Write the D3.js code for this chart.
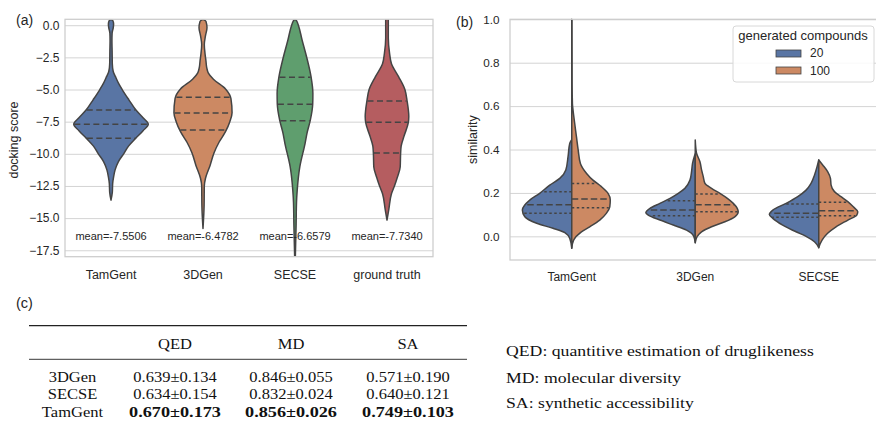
<!DOCTYPE html>
<html><head><meta charset="utf-8">
<script src="https://cdn.jsdelivr.net/npm/d3@7"></script>
<style>
body{margin:0;background:#fff}
svg{display:block}
text{font-family:"Liberation Sans",Arial,sans-serif;fill:#262626}
.serif text, text.serif{font-family:"Liberation Serif","Times New Roman",serif;fill:#111}
</style>
</head><body>
<svg id="chart" width="876" height="422"></svg>
<script>
// ---------------- DATA ----------------
// Panel (a): docking score violins
const categoriesA = ["TamGent", "3DGen", "SECSE", "ground truth"];
const meansA = [-7.5506, -6.4782, -6.6579, -7.7340];
const yTicksA = [0, -2.5, -5, -7.5, -10, -12.5, -15, -17.5];
// density profiles [value, relative density]
const densTamGentA = [[0.46,0],[0.35,0.05],[0.1,0.07],[-0.2,0.06],[-0.6,0.03],[-1.2,0.025],[-2.0,0.03],[-3.0,0.035],[-3.6,0.06],[-4.0,0.12],[-4.5,0.2],[-5.0,0.3],[-5.8,0.48],[-6.6,0.67],[-7.2,0.86],[-7.7,1.0],[-8.2,0.86],[-8.8,0.66],[-9.4,0.47],[-10.0,0.34],[-10.6,0.2],[-11.25,0.11],[-11.8,0.07],[-12.3,0.045],[-13.0,0.035],[-13.6,0]];
const dens3DGenA = [[0.46,0],[0.3,0.08],[-0.2,0.107],[-0.8,0.067],[-1.5,0.035],[-2.2,0.054],[-2.8,0.08],[-3.3,0.1],[-3.7,0.14],[-4.2,0.28],[-4.97,0.61],[-5.7,0.75],[-6.8,0.78],[-7.5,0.72],[-8.3,0.6],[-9.1,0.43],[-9.9,0.3],[-10.9,0.19],[-11.9,0.067],[-12.5,0.035],[-14.0,0.03],[-15.8,0]];
const densSECSEA = [[0.5,0],[0.3,0.05],[0,0.09],[-1.15,0.19],[-2.45,0.31],[-4.0,0.43],[-5.3,0.48],[-6.15,0.475],[-7.4,0.41],[-8.3,0.33],[-9.2,0.27],[-11.0,0.13],[-12.8,0.06],[-13.8,0.04],[-15.5,0.03],[-19,0]];
const densTruthA = [[0.8,0],[0.46,0.035],[-1.0,0.035],[-2.2,0.07],[-3.0,0.12],[-4.0,0.31],[-5.0,0.48],[-5.9,0.54],[-7.1,0.585],[-7.6,0.57],[-8.6,0.46],[-9.4,0.38],[-10.0,0.365],[-11.0,0.355],[-11.8,0.28],[-12.5,0.2],[-13.1,0.12],[-14.3,0.05],[-15.15,0]];
const quartTamGentA = [-8.79, -7.70, -6.59];
const quart3DGenA = [-8.14, -6.82, -5.60];
const quartSECSEA = [-7.42, -6.15, -4.05];
const quartTruthA = [-9.93, -7.55, -5.89];

// Panel (b): similarity split violins
const categoriesB = ["TamGent", "3DGen", "SECSE"];
const seriesB = ["20", "100"];
const yTicksB = [0, 0.2, 0.4, 0.6, 0.8, 1.0];
const densTamGent20 = [[-0.055,0],[-0.01,0.04],[0.017,0.14],[0.037,0.38],[0.06,0.71],[0.09,0.95],[0.121,1.0],[0.167,0.85],[0.198,0.65],[0.236,0.445],[0.267,0.243],[0.306,0.12],[0.367,0.075],[0.429,0.04],[0.445,0]];
const densTamGent100 = [[-0.055,0],[-0.017,0.04],[0.021,0.196],[0.044,0.364],[0.075,0.567],[0.106,0.70],[0.136,0.77],[0.167,0.78],[0.198,0.735],[0.229,0.60],[0.259,0.43],[0.29,0.30],[0.336,0.175],[0.398,0.13],[0.459,0.095],[0.52,0.06],[0.582,0.026],[0.61,0.014],[0.7,0.008],[0.995,0.006],[1.0,0]];
const dens3DGen20 = [[-0.029,0],[0,0.03],[0.029,0.176],[0.052,0.445],[0.075,0.715],[0.098,0.95],[0.109,1.0],[0.129,0.917],[0.152,0.715],[0.175,0.51],[0.198,0.344],[0.221,0.21],[0.259,0.107],[0.298,0.075],[0.336,0.055],[0.367,0.02],[0.38,0]];
const dens3DGen100 = [[-0.029,0],[0,0.04],[0.021,0.128],[0.044,0.33],[0.067,0.60],[0.09,0.80],[0.113,0.87],[0.129,0.85],[0.152,0.77],[0.175,0.65],[0.198,0.50],[0.221,0.33],[0.244,0.196],[0.275,0.162],[0.306,0.128],[0.344,0.095],[0.383,0.026],[0.41,0.01],[0.444,0]];
const densSECSE20 = [[-0.052,0],[-0.025,0.087],[0,0.257],[0.021,0.46],[0.052,0.73],[0.083,0.93],[0.101,1.0],[0.121,0.93],[0.152,0.66],[0.183,0.425],[0.213,0.257],[0.244,0.156],[0.282,0.087],[0.321,0.034],[0.352,0]];
const densSECSE100 = [[-0.052,0],[-0.017,0.067],[0.014,0.18],[0.044,0.35],[0.075,0.59],[0.098,0.77],[0.113,0.79],[0.136,0.70],[0.16,0.587],[0.183,0.45],[0.206,0.318],[0.236,0.25],[0.267,0.237],[0.298,0.18],[0.329,0.08],[0.352,0]];
const quartTamGent20 = [0.106, 0.146, 0.206];
const quartTamGent100 = [0.132, 0.172, 0.244];
const quart3DGen20 = [0.095, 0.121, 0.164];
const quart3DGen100 = [0.113, 0.146, 0.195];
const quartSECSE20 = [0.088, 0.106, 0.149];
const quartSECSE100 = [0.095, 0.118, 0.157];

// Panel (c): table
const tableColumns = ["QED", "MD", "SA"];
const tableModels = ["3DGen", "SECSE", "TamGent"];
const qedMean = [0.639, 0.634, 0.670], qedStd = [0.134, 0.154, 0.173];
const mdMean = [0.846, 0.832, 0.856],  mdStd = [0.055, 0.024, 0.026];
const saMean = [0.571, 0.640, 0.749],  saStd = [0.190, 0.121, 0.103];
const descriptions = ["QED: quantitive estimation of druglikeness", "MD: molecular diversity", "SA: synthetic accessibility"];

// ---------------- STYLE ----------------
const colorsA = ["#5975a4", "#cc8963", "#5f9e6e", "#b55d60"];
const colorsB = ["#5975a4", "#cc8963"];
const GRID = "#d4d4d4", EDGE = "#444444";

const svg = d3.select("#chart");
const fmt1 = d3.format(".1f");

function widthAt(prof, v) {
  for (let i = 0; i < prof.length - 1; i++) {
    const a = prof[i], b = prof[i + 1];
    if ((v <= a[0] && v >= b[0]) || (v >= a[0] && v <= b[0])) {
      const t = (v - a[0]) / (b[0] - a[0]);
      return a[1] + t * (b[1] - a[1]);
    }
  }
  return 0;
}

// ---------------- PANEL A ----------------
{
  const L = 65, R = 433, T = 19.3, B = 256.7;
  const x = d3.scaleBand().domain(categoriesA).range([L, R]);
  const y = d3.scaleLinear().domain([-18, 0.46]).range([B, T]);
  const w = d3.scaleLinear().domain([0, 1]).range([0, x.bandwidth() * 0.405]);
  const g = svg.append("g");
  g.append("defs").append("clipPath").attr("id", "clipA").append("rect")
    .attr("x", L).attr("y", T).attr("width", R - L).attr("height", B - T);

  const ax = g.append("g").attr("transform", `translate(${L},0)`)
    .call(d3.axisLeft(y).tickValues(yTicksA).tickSize(-(R - L)).tickPadding(5.5).tickFormat(fmt1));
  ax.select(".domain").remove();
  ax.selectAll(".tick line").attr("stroke", GRID).attr("stroke-width", 1);
  ax.selectAll(".tick text").attr("font-size", 12).attr("fill", "#262626").style("font-family", "'Liberation Sans',Arial,sans-serif");

  const dens = [densTamGentA, dens3DGenA, densSECSEA, densTruthA];
  const quarts = [quartTamGentA, quart3DGenA, quartSECSEA, quartTruthA];
  const vg = g.append("g").attr("clip-path", "url(#clipA)");
  categoriesA.forEach((c, i) => {
    const cx = x(c) + x.bandwidth() / 2;
    const area = d3.area().curve(d3.curveMonotoneY)
      .y(d => y(d[0])).x0(d => cx - w(d[1])).x1(d => cx + w(d[1]));
    vg.append("path").datum(dens[i]).attr("d", area)
      .attr("fill", colorsA[i]).attr("stroke", EDGE).attr("stroke-width", 1.5).attr("stroke-linejoin", "round");
    quarts[i].forEach(q => {
      const hw = w(widthAt(dens[i], q)) - 0.6;
      vg.append("line").attr("x1", cx - hw).attr("x2", cx + hw).attr("y1", y(q)).attr("y2", y(q))
        .attr("stroke", EDGE).attr("stroke-width", 1.5).attr("stroke-dasharray", "6,3.5");
    });
  });
  categoriesA.forEach((c, i) => {
    const cx = x(c) + x.bandwidth() / 2;
    g.append("text").attr("x", cx).attr("y", y(-16.7)).attr("text-anchor", "middle")
      .attr("font-size", 11).text("mean=" + meansA[i].toFixed(4));
    g.append("text").attr("x", cx).attr("y", 278.8).attr("text-anchor", "middle")
      .attr("font-size", 12.5).text(c);
  });
  g.append("rect").attr("x", L).attr("y", T).attr("width", R - L).attr("height", B - T)
    .attr("fill", "none").attr("stroke", "#cccccc").attr("stroke-width", 1.25);
  g.append("text").attr("transform", `translate(17.5,${(T + B) / 2 + 2}) rotate(-90)`)
    .attr("text-anchor", "middle").attr("font-size", 12.5).text("docking score");
  g.append("text").attr("x", 16).attr("y", 25).attr("font-size", 14).text("(a)");
}

// ---------------- PANEL B ----------------
{
  const L = 510, R = 880.5, T = 19.3, B = 260;
  const x = d3.scaleBand().domain(categoriesB).range([L, R]);
  const y = d3.scaleLinear().domain([-0.109, 1.0]).range([B, T]);
  const w = d3.scaleLinear().domain([0, 1]).range([0, x.bandwidth() * 0.4]);
  const g = svg.append("g");
  g.append("defs").append("clipPath").attr("id", "clipB").append("rect")
    .attr("x", L).attr("y", T - 1).attr("width", R - L).attr("height", B - T + 1);

  const ax = g.append("g").attr("transform", `translate(${L},0)`)
    .call(d3.axisLeft(y).tickValues(yTicksB).tickSize(-(R - L)).tickPadding(10.5).tickFormat(fmt1));
  ax.select(".domain").remove();
  ax.selectAll(".tick line").attr("stroke", GRID).attr("stroke-width", 1);
  ax.selectAll(".tick text").attr("font-size", 11.7).attr("fill", "#262626").style("font-family", "'Liberation Sans',Arial,sans-serif");

  const dens = [[densTamGent20, densTamGent100], [dens3DGen20, dens3DGen100], [densSECSE20, densSECSE100]];
  const quarts = [[quartTamGent20, quartTamGent100], [quart3DGen20, quart3DGen100], [quartSECSE20, quartSECSE100]];
  const vg = g.append("g").attr("clip-path", "url(#clipB)");
  categoriesB.forEach((c, i) => {
    const cx = x(c) + x.bandwidth() / 2;
    seriesB.forEach((s, j) => {
      const sign = j === 0 ? -1 : 1;
      const area = d3.area().curve(d3.curveMonotoneY)
        .y(d => y(d[0])).x0(() => cx).x1(d => cx + sign * w(d[1]));
      vg.append("path").datum(dens[i][j]).attr("d", area)
        .attr("fill", colorsB[j]).attr("stroke", EDGE).attr("stroke-width", 1.5).attr("stroke-linejoin", "round");
    });
  });
  categoriesB.forEach((c, i) => {
    const cx = x(c) + x.bandwidth() / 2;
    seriesB.forEach((s, j) => {
      const sign = j === 0 ? -1 : 1;
      quarts[i][j].forEach((q, k) => {
        const hw = w(widthAt(dens[i][j], q)) - 0.6;
        vg.append("line").attr("x1", cx).attr("x2", cx + sign * hw).attr("y1", y(q)).attr("y2", y(q))
          .attr("stroke", EDGE).attr("stroke-width", 1.5)
          .attr("stroke-dasharray", k === 1 ? "6.5,3" : "2.5,2.5");
      });
    });
    g.append("text").attr("x", cx).attr("y", 281).attr("text-anchor", "middle")
      .attr("font-size", 12).text(c);
  });
  g.append("rect").attr("x", L).attr("y", T).attr("width", R - L).attr("height", B - T)
    .attr("fill", "none").attr("stroke", "#cccccc").attr("stroke-width", 1.25);
  g.append("text").attr("transform", `translate(476.5,${(T + B) / 2}) rotate(-90)`)
    .attr("text-anchor", "middle").attr("font-size", 12.5).text("similarity");
  g.append("text").attr("x", 456).attr("y", 26.5).attr("font-size", 14).text("(b)");

  // legend
  const lg = g.append("g");
  lg.append("rect").attr("x", 733).attr("y", 26).attr("width", 141).attr("height", 56).attr("rx", 3)
    .attr("fill", "#fff").attr("fill-opacity", 0.85).attr("stroke", "#d8d8d8").attr("stroke-width", 1);
  lg.append("text").attr("x", 803).attr("y", 39.5).attr("text-anchor", "middle").attr("font-size", 13).text("generated compounds");
  seriesB.forEach((s, j) => {
    lg.append("rect").attr("x", 776).attr("y", 50 + j * 17).attr("width", 25).attr("height", 7)
      .attr("fill", colorsB[j]).attr("stroke", EDGE).attr("stroke-width", 0.8);
    lg.append("text").attr("x", 810).attr("y", 57.3 + j * 17.5).attr("font-size", 12).text(s);
  });
}

// ---------------- PANEL C ----------------
{
  const g = svg.append("g");
  g.append("text").attr("x", 16).attr("y", 307.5).attr("font-size", 14.5).text("(c)");
  const tg = g.append("g").attr("class", "serif");
  function stretch(sel, k) {
    sel.each(function () {
      const len = this.getComputedTextLength();
      d3.select(this).attr("textLength", len * k).attr("lengthAdjust", "spacingAndGlyphs");
    });
  }
  tg.append("line").attr("x1", 29).attr("x2", 467).attr("y1", 325.7).attr("y2", 325.7).attr("stroke", "#222").attr("stroke-width", 1.3);
  tg.append("line").attr("x1", 29).attr("x2", 467).attr("y1", 359.3).attr("y2", 359.3).attr("stroke", "#222").attr("stroke-width", 0.9);
  const colX = [175, 291, 408];
  const rowY = [381.7, 399, 416.7];
  const header = tg.selectAll(".hdr").data(tableColumns).join("text")
    .attr("x", (d, i) => colX[i]).attr("y", 349).attr("text-anchor", "middle").attr("font-size", 14).text(d => d);
  stretch(header, 1.18);
  const labels = tg.selectAll(".rl").data(tableModels).join("text")
    .attr("x", 72.5).attr("y", (d, i) => rowY[i]).attr("text-anchor", "middle").attr("font-size", 14).text(d => d);
  stretch(labels, 1.18);
  const means = [qedMean, mdMean, saMean], stds = [qedStd, mdStd, saStd];
  const f3 = d3.format(".3f");
  means.forEach((m, ci) => {
    const best = d3.maxIndex(m);
    m.forEach((v, ri) => {
      const t = tg.append("text").attr("x", colX[ci]).attr("y", rowY[ri]).attr("text-anchor", "middle")
        .attr("font-size", 14).attr("font-weight", ri === best ? "bold" : "normal")
        .text(f3(v) + "±" + f3(stds[ci][ri]));
      stretch(t, ri === best ? 1.3 : 1.18);
    });
  });
  const desc = tg.selectAll(".desc").data(descriptions).join("text")
    .attr("x", 506).attr("y", (d, i) => [356, 382.5, 408.3][i]).attr("font-size", 14).text(d => d);
  stretch(desc, 1.265);
}
</script>
</body></html>
